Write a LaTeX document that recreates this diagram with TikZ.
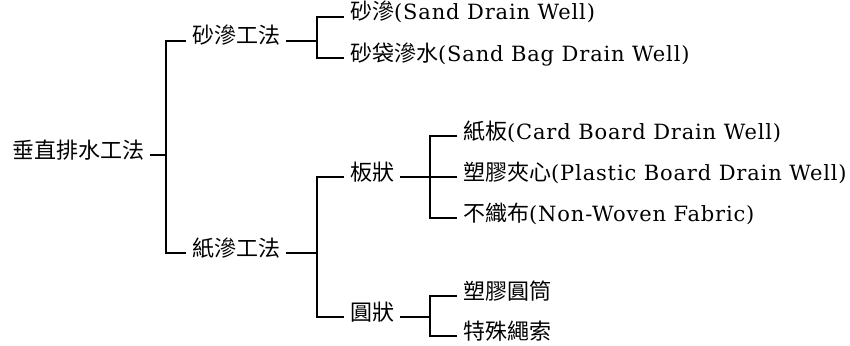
\documentclass[tikz,border=0pt]{standalone}
\usepackage{fontspec}
\setmainfont{DejaVu Serif}[LetterSpace=4]
\newfontfamily\cjk{Noto Sans CJK TC}
\newcommand{\zh}[1]{{\cjk\fontsize{22}{26}\selectfont #1}}
\begin{document}
\begin{tikzpicture}[x=1pt,y=-1pt,
  lbl/.style={anchor=west,inner xsep=6pt,inner ysep=0pt,font=\fontsize{21}{25}\selectfont,
    text height=0.8em,text depth=0.2em},
  conn/.style={line width=1.2pt,black}]
\useasboundingbox (0,0) rectangle (850,345);
\node[lbl] (root) at (6,155) {\zh{垂直排水工法}};
\node[lbl] (sa) at (186,41) {\zh{砂滲工法}};
\node[lbl] (zhi) at (186,253) {\zh{紙滲工法}};
\node[lbl] (s1) at (344,17) {\zh{砂滲}(Sand Drain Well)};
\node[lbl] (s2) at (344,58) {\zh{砂袋滲水}(Sand Bag Drain Well)};
\node[lbl] (ban) at (344,177) {\zh{板狀}};
\node[lbl] (yuan) at (344,317) {\zh{圓狀}};
\node[lbl] (b1) at (457,136) {\zh{紙板}(Card Board Drain Well)};
\node[lbl] (b2) at (457,177) {\zh{塑膠夾心}(Plastic Board Drain Well)};
\node[lbl] (b3) at (457,218) {\zh{不織布}(Non-Woven Fabric)};
\node[lbl] (y1) at (457,296) {\zh{塑膠圓筒}};
\node[lbl] (y2) at (457,336) {\zh{特殊繩索}};
\coordinate (j1) at (166,155);
\coordinate (j2) at (317,41);
\coordinate (j3) at (317,253);
\coordinate (j4) at (430,177);
\coordinate (j5) at (430,317);
\draw[conn] (root.east) -- (j1);
\draw[conn] (sa.west) -| (j1) |- (zhi.west);
\draw[conn] (sa.east) -- (j2);
\draw[conn] (s1.west) -| (j2) |- (s2.west);
\draw[conn] (zhi.east) -- (j3);
\draw[conn] (ban.west) -| (j3) |- (yuan.west);
\draw[conn] (ban.east) -- (j4);
\draw[conn] (b1.west) -| (j4) |- (b3.west);
\draw[conn] (j4) -- (b2.west);
\draw[conn] (yuan.east) -- (j5);
\draw[conn] (y1.west) -| (j5) |- (y2.west);
\end{tikzpicture}
\end{document}
